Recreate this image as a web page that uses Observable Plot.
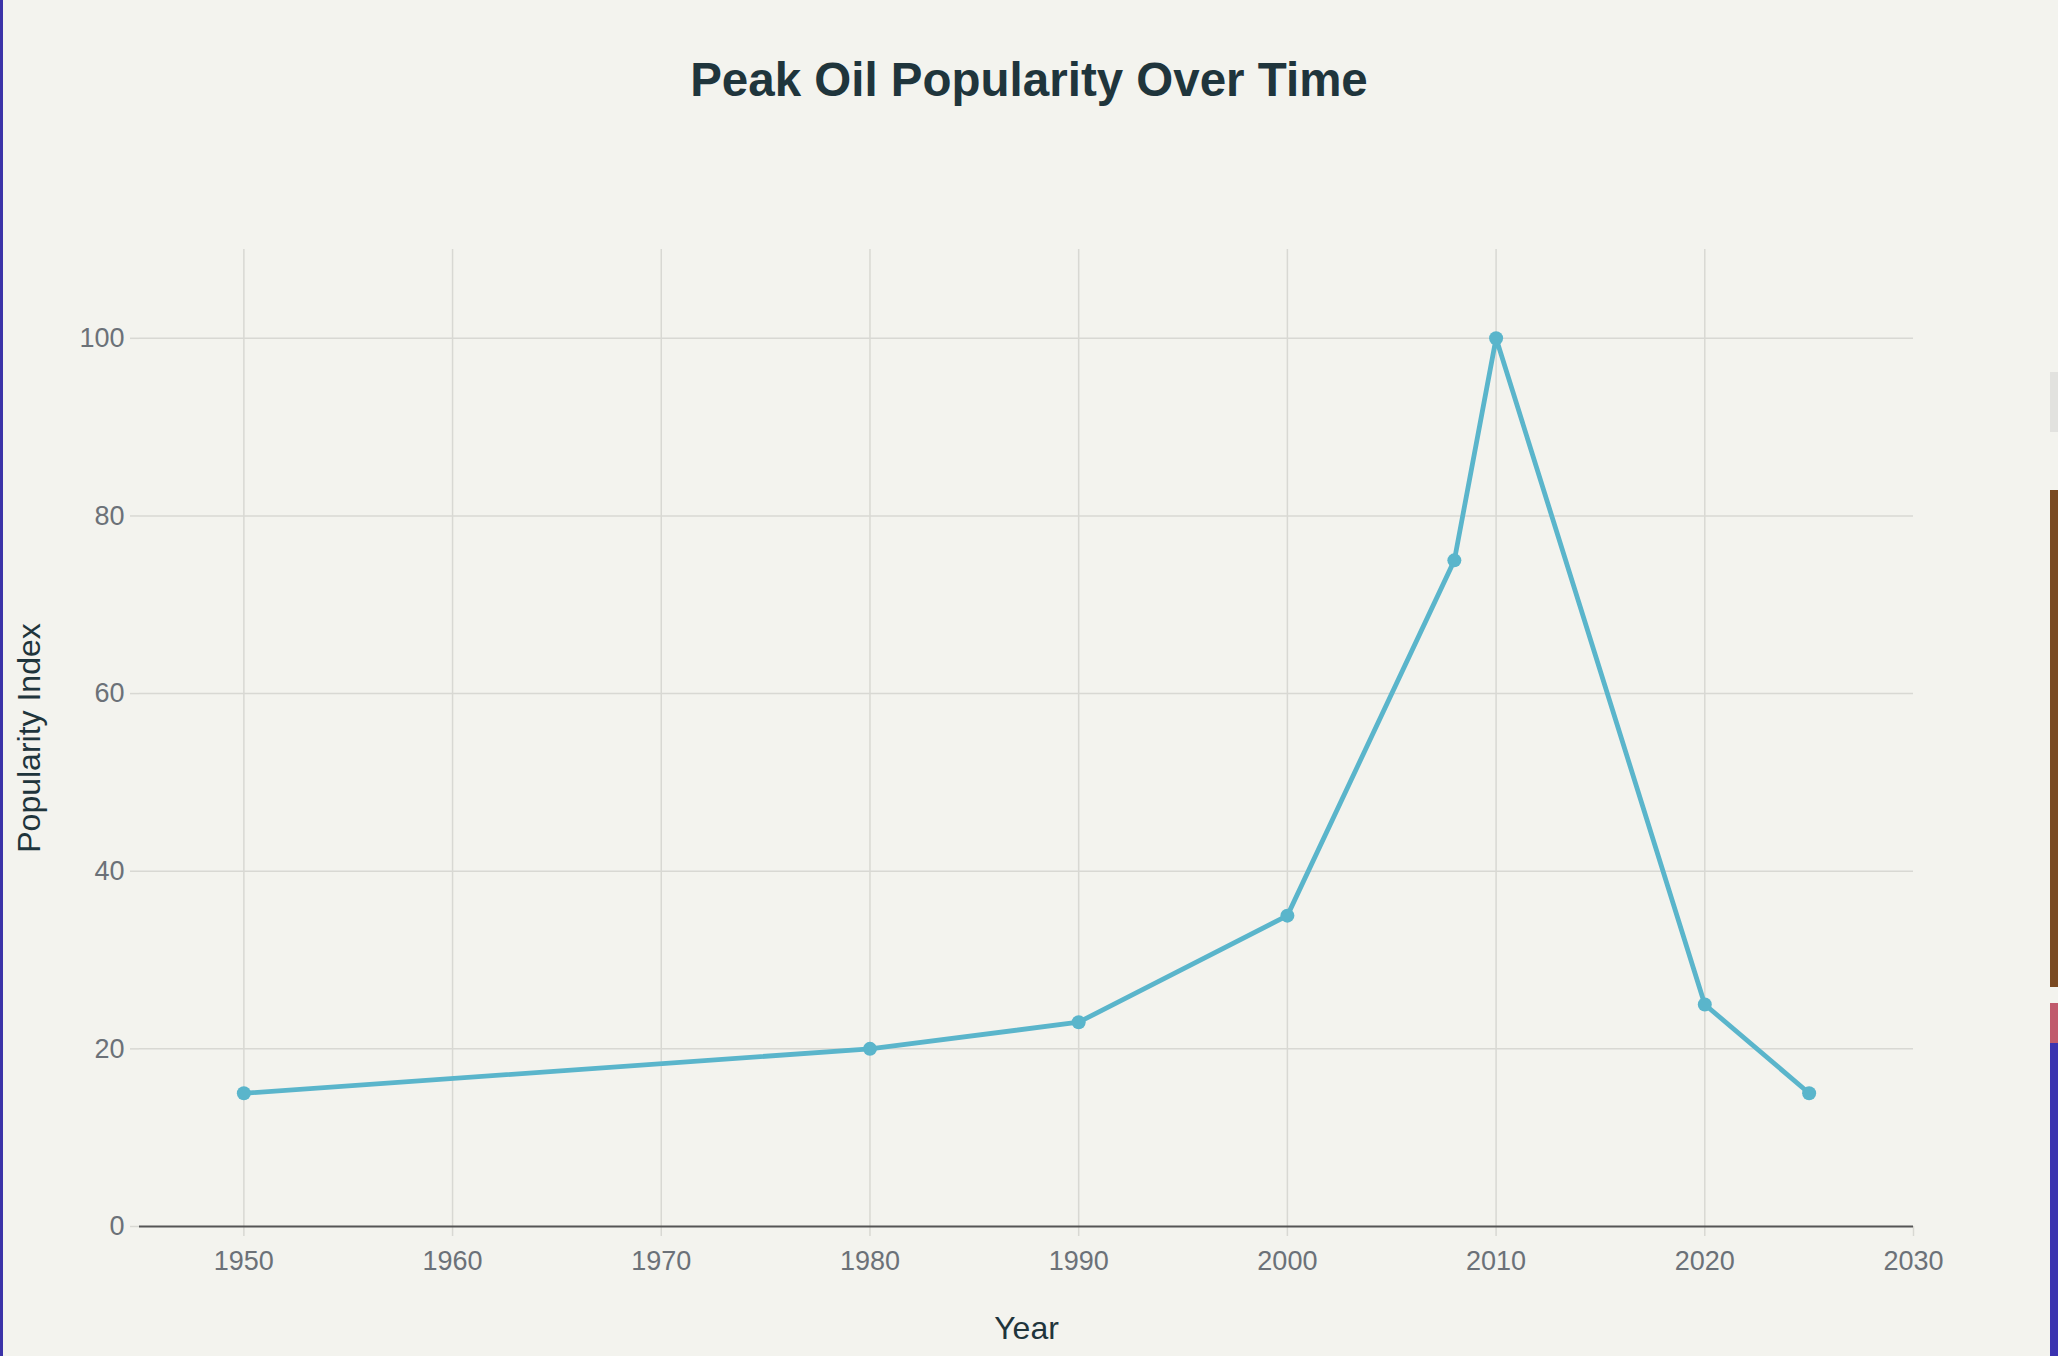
<!DOCTYPE html>
<html>
<head>
<meta charset="utf-8">
<script src="https://cdn.jsdelivr.net/npm/d3@7"></script>
<script src="https://cdn.jsdelivr.net/npm/@observablehq/plot@0.6"></script>
<style>
  html, body { margin: 0; padding: 0; background: #f3f3ee; overflow: hidden; }
  body { width: 2058px; height: 1356px; position: relative; }
  #title {
    height: 160px; line-height: 160px; text-align: center;
    font-family: "Liberation Sans", Arial, sans-serif; font-weight: 700;
    font-size: 47.5px; color: #1f353c; letter-spacing: 0;
  }
  #chart svg { display: block; }
  .edgeL { position: absolute; left: 0; top: 0; width: 3px; height: 1356px; background: #3b33a8; }
  .edgeR { position: absolute; right: 0; width: 8px; }
</style>
</head>
<body>
<div class="edgeL"></div>
<div id="title">Peak Oil Popularity Over Time</div>
<div id="chart"></div>
<div class="edgeR" style="top:372px;height:60px;background:#e2e2df;"></div>
<div class="edgeR" style="top:490px;height:497px;background:#7a4a22;"></div>
<div class="edgeR" style="top:1003px;height:40px;background:#c05a6c;"></div>
<div class="edgeR" style="top:1043px;height:313px;background:#3b33b0;"></div>
<script>
// Data
const years = [1950, 1980, 1990, 2000, 2008, 2010, 2020, 2025];
const popularity = [15, 20, 23, 35, 75, 100, 25, 15];
const xTicks = [1950, 1960, 1970, 1980, 1990, 2000, 2010, 2020, 2030];
const xGrid = [1950, 1960, 1970, 1980, 1990, 2000, 2010, 2020];
const yTicks = [0, 20, 40, 60, 80, 100];
const yGrid = [20, 40, 60, 80, 100];

const data = years.map((y, i) => ({year: y, value: popularity[i]}));

const lineColor = "#5ab5cb";
const gridColor = "#d8d8d3";
const tickText = "#6b7178";
const titleColor = "#1f353c";

const chart = Plot.plot({
  width: 2058,
  height: 1196,
  marginTop: 89,
  marginBottom: 130,
  marginLeft: 139,
  marginRight: 145,
  style: {background: "transparent", fontFamily: "Liberation Sans, Arial, sans-serif", fontSize: "27px", color: tickText},
  x: {domain: [1945, 2030], label: null},
  y: {domain: [0, 110], label: null},
  marks: [
    Plot.gridX(xGrid, {stroke: gridColor, strokeOpacity: 1, strokeWidth: 1.5}),
    Plot.gridY(yGrid, {stroke: gridColor, strokeOpacity: 1, strokeWidth: 1.5}),
    Plot.axisX(xTicks, {tickSize: 10, tickPadding: 14, stroke: gridColor, strokeWidth: 1.5, fill: tickText, tickFormat: d => String(d), label: null}),
    Plot.axisY(yTicks, {tickSize: 9, tickPadding: 6, stroke: gridColor, strokeWidth: 1.5, fill: tickText, label: null}),
    Plot.ruleY([0], {stroke: "#555", strokeWidth: 2}),
    Plot.line(data, {x: "year", y: "value", stroke: lineColor, strokeWidth: 4.8}),
    Plot.dot(data, {x: "year", y: "value", r: 7, fill: lineColor}),
    Plot.text(["Year"], {frameAnchor: "bottom", dy: 102, fontSize: 32, fill: titleColor, lineAnchor: "middle", textAnchor: "middle"}),
    Plot.text(["Popularity Index"], {frameAnchor: "left", dx: -110, rotate: -90, fontSize: 32, fill: titleColor, lineAnchor: "middle", textAnchor: "middle"})
  ]
});
document.getElementById("chart").appendChild(chart);
</script>
</body>
</html>
